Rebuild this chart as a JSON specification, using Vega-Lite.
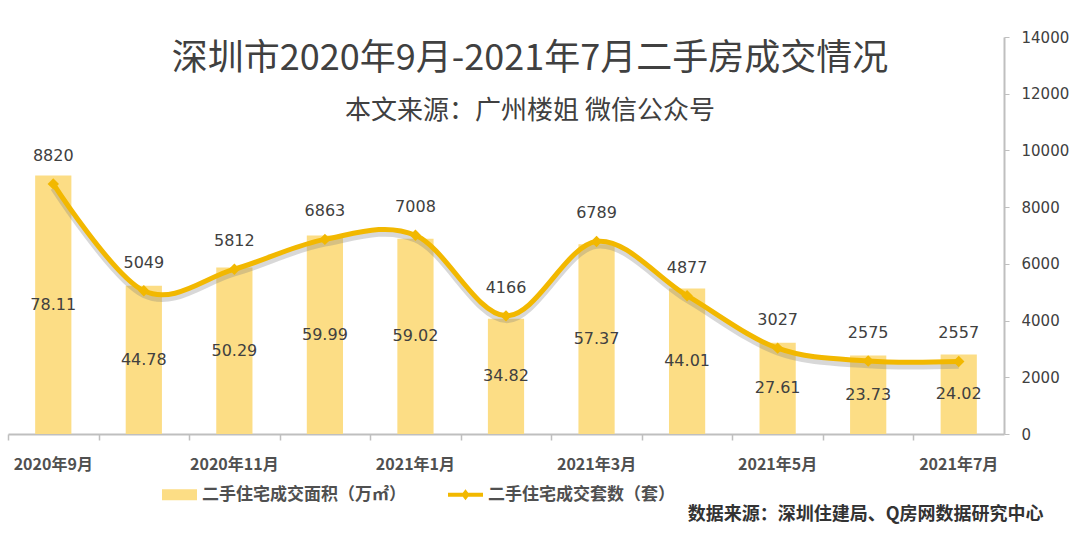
{
  "$schema": "https://vega.github.io/schema/vega-lite/v6.json",
  "width": 996,
  "height": 397,
  "autosize": "none",
  "padding": {"left": 8, "top": 37, "right": 76, "bottom": 113},
  "background": "white",
  "config": {
    "view": {"stroke": null}
  },
  "title": {
    "text": "深圳市2020年9月-2021年7月二手房成交情况",
    "subtitle": "本文来源：广州楼姐 微信公众号",
    "anchor": "middle",
    "frame": "group",
    "offset": -95,
    "dx": 24,
    "font": "Noto Sans CJK SC",
    "fontSize": 36,
    "fontWeight": "normal",
    "color": "#404040",
    "subtitleFont": "Noto Sans CJK SC",
    "subtitleFontSize": 26,
    "subtitleColor": "#404040",
    "subtitlePadding": 20
  },
  "data": {
    "values": [
      {"month": "2020年9月", "area": 78.11, "count": 8820},
      {"month": "2020年10月", "area": 44.78, "count": 5049},
      {"month": "2020年11月", "area": 50.29, "count": 5812},
      {"month": "2020年12月", "area": 59.99, "count": 6863},
      {"month": "2021年1月", "area": 59.02, "count": 7008},
      {"month": "2021年2月", "area": 34.82, "count": 4166},
      {"month": "2021年3月", "area": 57.37, "count": 6789},
      {"month": "2021年4月", "area": 44.01, "count": 4877},
      {"month": "2021年5月", "area": 27.61, "count": 3027},
      {"month": "2021年6月", "area": 23.73, "count": 2575},
      {"month": "2021年7月", "area": 24.02, "count": 2557}
    ]
  },
  "layer": [
    {
      "mark": {"type": "bar", "color": "#FCDD85"},
      "encoding": {
        "x": {
          "field": "month",
          "type": "nominal",
          "sort": null,
          "scale": {"paddingInner": 0.6, "paddingOuter": 0.3},
          "axis": {
            "orient": "bottom",
            "title": "数据来源：深圳住建局、Q房网数据研究中心",
            "titleX": 1035,
            "titleY": 80,
            "titleAlign": "right",
            "titleBaseline": "middle",
            "titleFont": "Noto Sans CJK SC",
            "titleFontSize": 18,
            "titleFontWeight": "bold",
            "titleColor": "#333333",
            "labelAngle": 0,
            "labelExpr": "indexof(['2020年9月','2020年11月','2021年1月','2021年3月','2021年5月','2021年7月'], datum.value) >= 0 ? datum.value : ''",
            "labelFont": "Noto Sans CJK SC",
            "labelFontSize": 16,
            "labelFontWeight": "bold",
            "labelColor": "#505050",
            "labelPadding": 22,
            "ticks": false,
            "domainColor": "#BFBFBF",
            "domainWidth": 2,
            "grid": false
          }
        },
        "y": {
          "field": "area",
          "type": "quantitative",
          "scale": {"domain": [0, 120]},
          "axis": null
        },
        "color": {
          "datum": "二手住宅成交面积（万㎡）",
          "scale": {
            "domain": ["二手住宅成交面积（万㎡）", "二手住宅成交套数（套）"],
            "range": ["#FCDD85", "#F2B800"]
          },
          "legend": {
            "orient": "none",
            "legendX": 154,
            "legendY": 440,
            "direction": "horizontal",
            "title": null,
            "symbolSize": 1225,
            "labelFont": "Noto Sans CJK SC",
            "labelFontSize": 17,
            "labelFontWeight": "bold",
            "labelColor": "#505050",
            "labelLimit": 400,
            "labelOffset": 5,
            "columnPadding": 42,
            "encode": {
              "symbols": {
                "update": {
                  "shape": {"signal": "datum.value == '二手住宅成交面积（万㎡）' ? 'M-1,-0.31H1V0.31H-1Z' : 'M-1,-0.11H1V0.11H-1Z M-0.24,0L0,-0.32L0.24,0L0,0.32Z'"},
                  "fill": {"scale": "color", "field": "value"},
                  "strokeWidth": {"value": 0},
                  "opacity": {"value": 1}
                }
              }
            }
          }
        }
      }
    },
    {
      "mark": {"type": "text", "font": "DejaVu Sans", "fontSize": 16, "color": "#404040", "baseline": "middle"},
      "encoding": {
        "x": {
          "field": "month",
          "type": "nominal",
          "sort": null,
          "axis": {
            "orient": "bottom",
            "offset": 0,
            "title": null,
            "labels": false,
            "domain": false,
            "ticks": true,
            "tickOffset": -45.27,
            "tickSize": 6,
            "tickColor": "#BFBFBF",
            "tickWidth": 1.5,
            "grid": false
          }
        },
        "y": {
          "field": "area",
          "type": "quantitative",
          "scale": {"domain": [0, 240]},
          "axis": null
        },
        "text": {"field": "area", "type": "quantitative", "format": ".2f"}
      }
    },
    {
      "mark": {"type": "line", "interpolate": "cardinal", "strokeWidth": 6, "color": "#7F7F7F", "opacity": 0.3},
      "encoding": {
        "x": {"field": "month", "type": "nominal", "sort": null, "axis": null},
        "y": {
          "field": "count",
          "type": "quantitative",
          "scale": {"domain": [150, 14150]},
          "axis": null
        }
      }
    },
    {
      "mark": {
        "type": "line",
        "interpolate": "cardinal",
        "strokeWidth": 5,
        "point": {"shape": "diamond", "size": 130, "filled": true, "color": "#F2B800"}
      },
      "encoding": {
        "x": {"field": "month", "type": "nominal", "sort": null, "axis": null},
        "y": {
          "field": "count",
          "type": "quantitative",
          "scale": {"domain": [0, 14000]},
          "axis": {
            "orient": "right",
            "title": null,
            "values": [0, 2000, 4000, 6000, 8000, 10000, 12000, 14000],
            "format": "d",
            "labelFont": "DejaVu Sans",
            "labelFontSize": 15,
            "labelColor": "#404040",
            "labelPadding": 12,
            "tickSize": 5,
            "tickColor": "#BFBFBF",
            "domainColor": "#BFBFBF",
            "domainWidth": 2,
            "grid": false
          }
        },
        "color": {"datum": "二手住宅成交套数（套）"}
      }
    },
    {
      "mark": {"type": "text", "font": "DejaVu Sans", "fontSize": 16, "color": "#404040", "baseline": "middle", "dy": -28},
      "encoding": {
        "x": {"field": "month", "type": "nominal", "sort": null, "axis": null},
        "y": {
          "field": "count",
          "type": "quantitative",
          "scale": {"domain": [0, 14000]},
          "axis": null
        },
        "text": {"field": "count", "type": "quantitative", "format": "d"}
      }
    }
  ],
  "resolve": {"scale": {"y": "independent"}, "axis": {"x": "independent"}}
}
